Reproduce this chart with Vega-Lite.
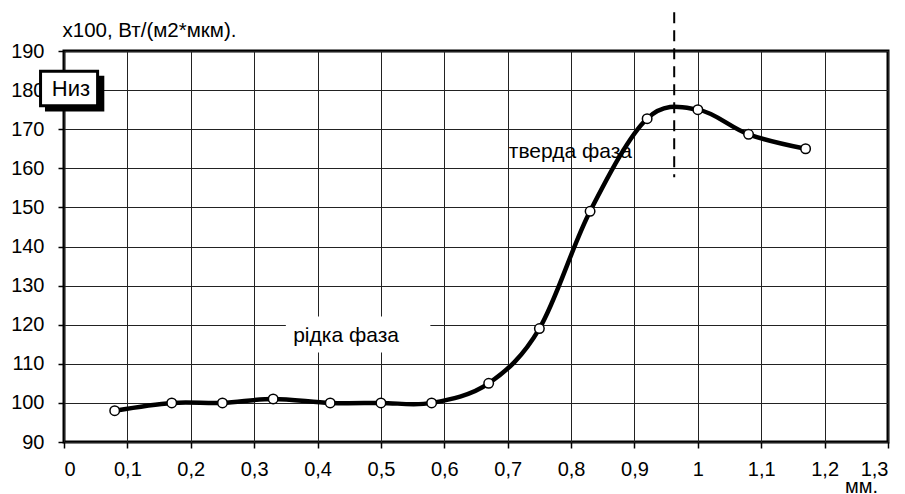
{
  "$schema": "https://vega.github.io/schema/vega-lite/v6.json",
  "width": 824,
  "height": 391,
  "autosize": "none",
  "padding": {"left": 64, "top": 51, "right": 17, "bottom": 52},
  "background": "white",
  "config": {
    "view": {"stroke": "black", "strokeWidth": 3},
    "font": "Liberation Sans",
    "axis": {
      "labelFont": "Liberation Sans",
      "titleFont": "Liberation Sans",
      "labelFontSize": 20,
      "titleFontSize": 20,
      "titleFontWeight": "normal",
      "labelColor": "black",
      "titleColor": "black",
      "labelOverlap": false,
      "domain": false,
      "grid": true,
      "gridColor": "#222",
      "gridWidth": 1,
      "tickColor": "black",
      "tickWidth": 1.5,
      "tickSize": 6
    },
    "axisY": {"labelOverlap": false, "labelSeparation": -30}
  },
  "datasets": {
    "pts": [
      {"x": 0.08, "y": 98},
      {"x": 0.17, "y": 100},
      {"x": 0.25, "y": 100},
      {"x": 0.33, "y": 101},
      {"x": 0.42, "y": 100},
      {"x": 0.5, "y": 100},
      {"x": 0.58, "y": 100},
      {"x": 0.67, "y": 105},
      {"x": 0.75, "y": 119},
      {"x": 0.83, "y": 149},
      {"x": 0.92, "y": 172.7},
      {"x": 1.0, "y": 175},
      {"x": 1.08, "y": 168.7},
      {"x": 1.17, "y": 165}
    ]
  },
  "layer": [
    {
      "data": {"values": [{"x": 0.35, "x2": 0.578, "y": 122.1, "y2": 112.9}]},
      "mark": {"type": "rect", "fill": "white", "stroke": null},
      "encoding": {
        "x": {"field": "x", "type": "quantitative", "scale": {"domain": [0, 1.3], "nice": false, "zero": false},
          "axis": {"values": [0, 0.1, 0.2, 0.3, 0.4, 0.5, 0.6, 0.7, 0.8, 0.9, 1, 1.1, 1.2, 1.3],
            "labelExpr": "replace(format(datum.value, '.1~f'), '.', ',')",
            "labelOverlap": false,
            "labelPadding": 11,
            "title": "мм.", "titleAnchor": "start", "titleAlign": "center", "titleX": 797, "titleY": 50, "titleBaseline": "alphabetic", "titleFontSize": 20}},
        "x2": {"field": "x2"},
        "y": {"field": "y", "type": "quantitative", "scale": {"domain": [90, 190], "nice": false, "zero": false},
          "axis": {"values": [90, 100, 110, 120, 130, 140, 150, 160, 170, 180, 190],
            "tickCount": 11,
            "labelOverlap": false,
            "labelSeparation": -30,
            "labelPadding": 14,
            "title": "х100,  Вт/(м2*мкм).", "titleAngle": 0, "titleAlign": "left", "titleAnchor": "start", "titleX": -2, "titleY": -15, "titleBaseline": "alphabetic", "titleFontSize": 20.5}},
        "y2": {"field": "y2"}
      }
    },
    {
      "data": {"name": "pts"},
      "mark": {"type": "line", "interpolate": "cardinal", "color": "black", "strokeWidth": 4.5},
      "encoding": {
        "x": {"field": "x", "type": "quantitative"},
        "y": {"field": "y", "type": "quantitative"}
      }
    },
    {
      "data": {"name": "pts"},
      "mark": {"type": "point", "shape": "circle", "filled": true, "fill": "white", "stroke": "black", "strokeWidth": 1.5, "size": 90, "opacity": 1},
      "encoding": {
        "x": {"field": "x", "type": "quantitative"},
        "y": {"field": "y", "type": "quantitative"}
      }
    },
    {
      "data": {"values": [{"x": 0.9627, "y": 199.9, "y2": 157.7}]},
      "mark": {"type": "rule", "color": "black", "strokeWidth": 2, "strokeDash": [11, 7]},
      "encoding": {
        "x": {"field": "x", "type": "quantitative"},
        "y": {"field": "y", "type": "quantitative"},
        "y2": {"field": "y2"}
      }
    },
    {
      "data": {"values": [
        {"x": 0.799, "y": 164.1, "t": "тверда  фаза"},
        {"x": 0.445, "y": 117.2, "t": "рідка  фаза"}
      ]},
      "mark": {"type": "text", "fontSize": 21, "font": "Liberation Sans", "color": "black", "align": "center", "baseline": "middle"},
      "encoding": {
        "x": {"field": "x", "type": "quantitative"},
        "y": {"field": "y", "type": "quantitative"},
        "text": {"field": "t"}
      }
    },
    {
      "data": {"values": [{"x": -0.030, "x2": 0.0636, "y": 183.7, "y2": 174.5}]},
      "mark": {"type": "rect", "fill": "black"},
      "encoding": {
        "x": {"field": "x", "type": "quantitative"},
        "x2": {"field": "x2"},
        "y": {"field": "y", "type": "quantitative"},
        "y2": {"field": "y2"}
      }
    },
    {
      "data": {"values": [{"x": -0.037, "x2": 0.053, "y": 184.8, "y2": 176.0}]},
      "mark": {"type": "rect", "fill": "white", "stroke": "black", "strokeWidth": 3},
      "encoding": {
        "x": {"field": "x", "type": "quantitative"},
        "x2": {"field": "x2"},
        "y": {"field": "y", "type": "quantitative"},
        "y2": {"field": "y2"}
      }
    },
    {
      "data": {"values": [{"x": 0.011, "y": 180.3, "t": "Низ"}]},
      "mark": {"type": "text", "fontSize": 22, "font": "Liberation Sans", "color": "black", "align": "center", "baseline": "middle"},
      "encoding": {
        "x": {"field": "x", "type": "quantitative"},
        "y": {"field": "y", "type": "quantitative"},
        "text": {"field": "t"}
      }
    }
  ]
}
